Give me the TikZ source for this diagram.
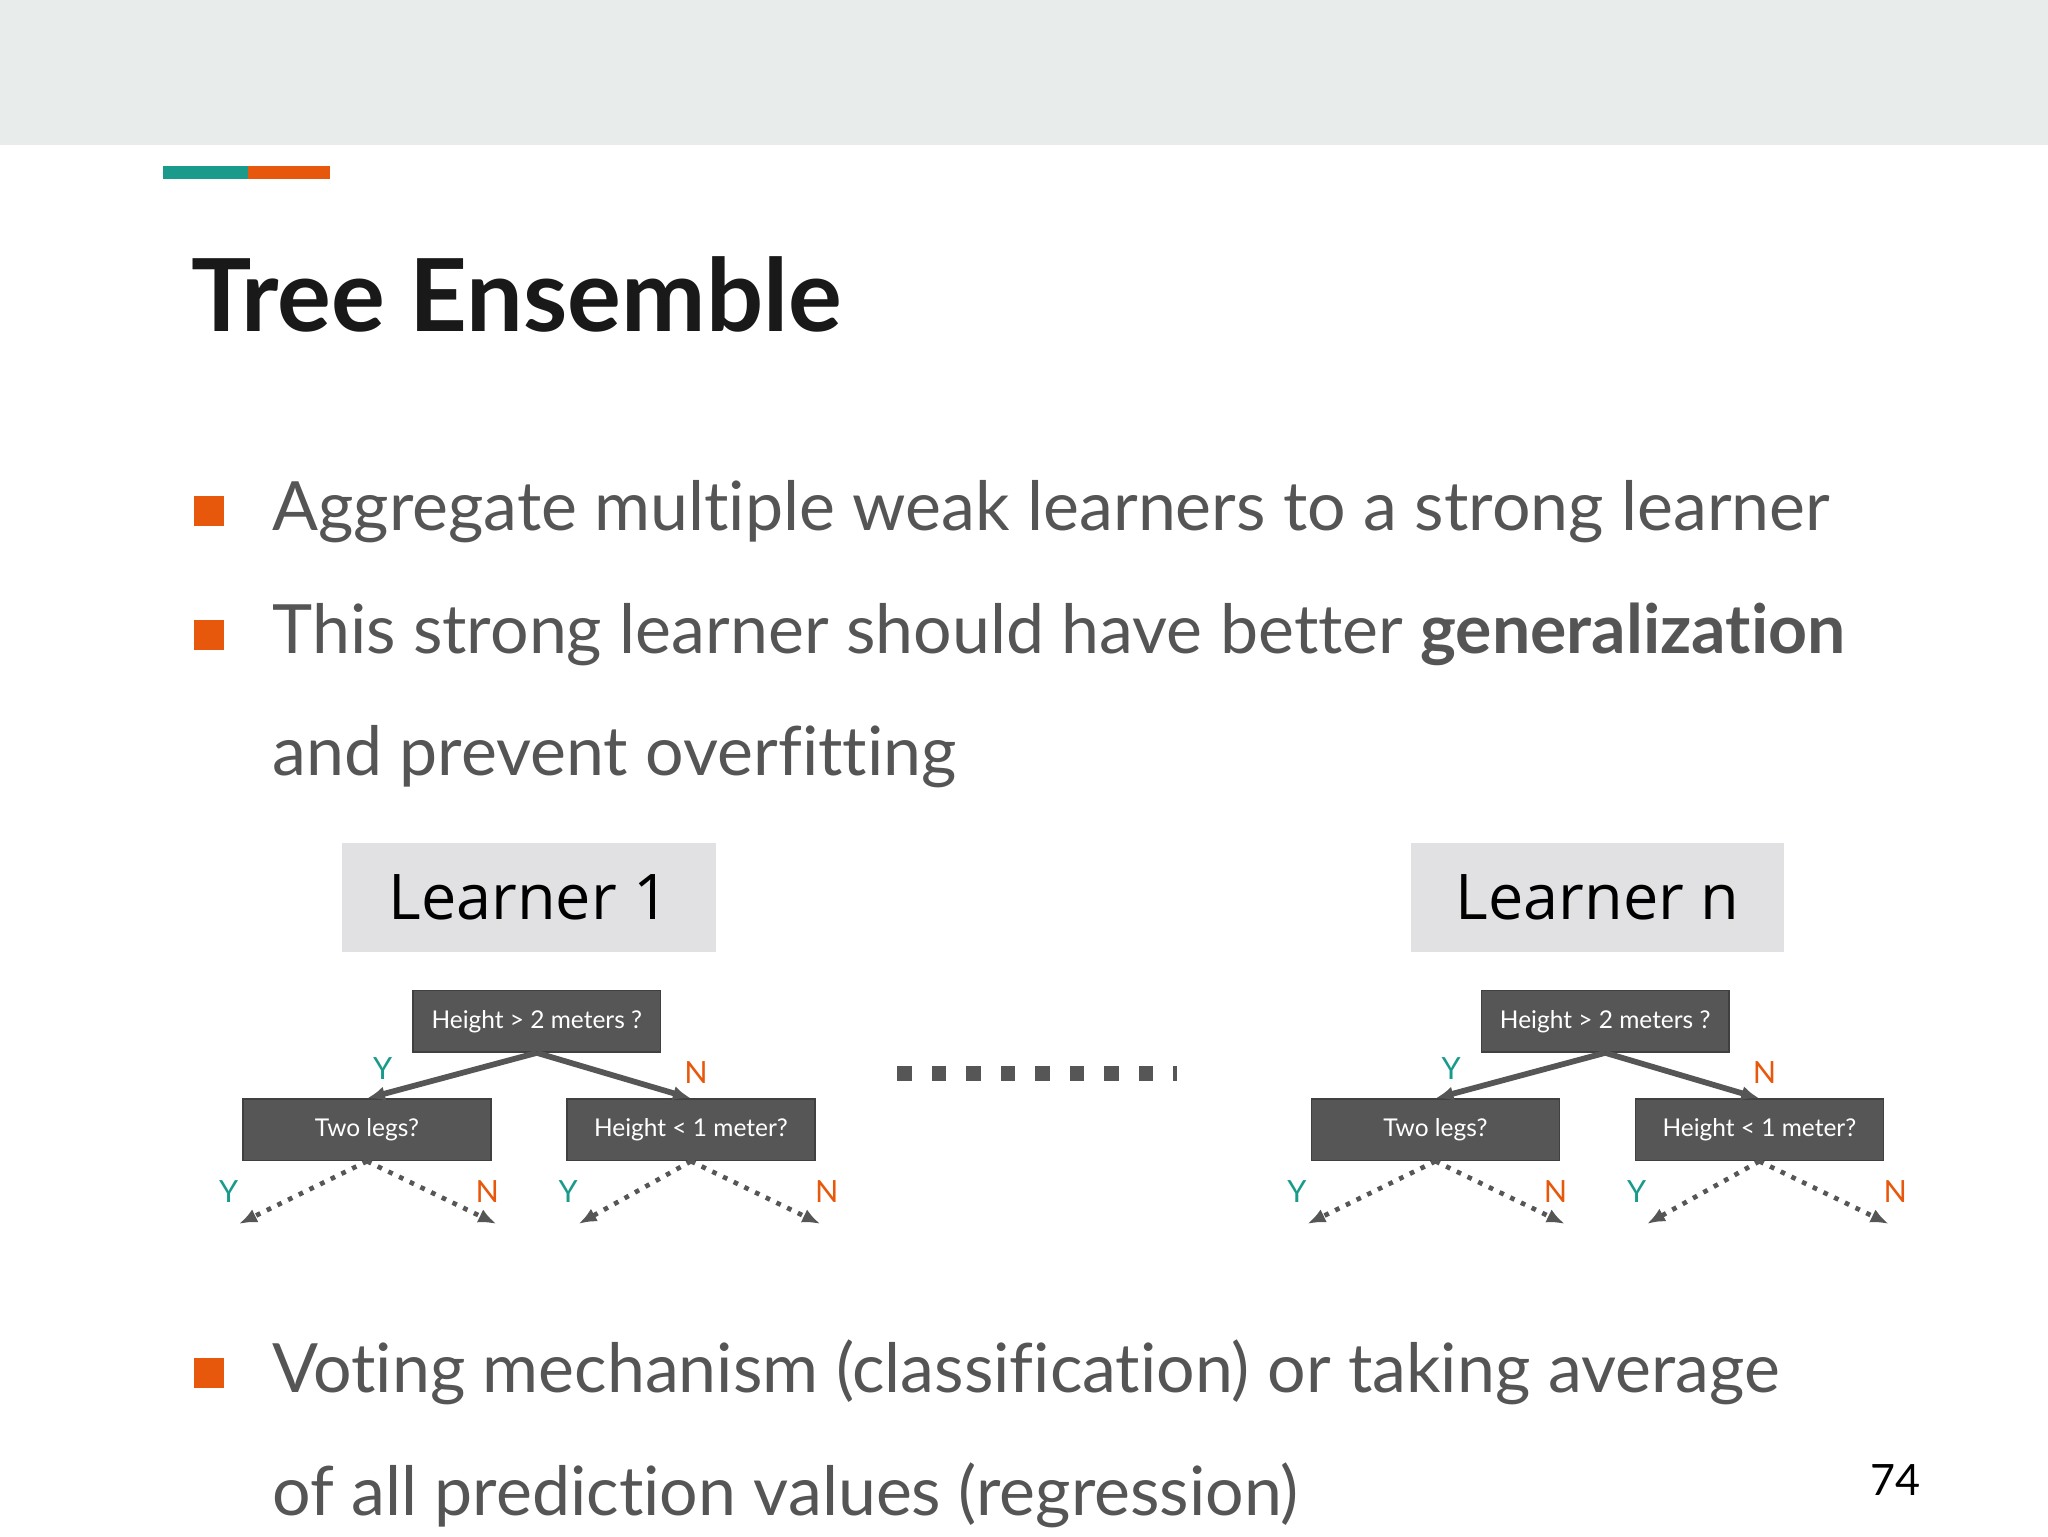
\documentclass[tikz,border=0pt]{standalone}
\usepackage{fontspec}
\setmainfont[Ligatures=NoCommon]{Lato}
\newfontfamily\learnerfont{Open Sans}
\definecolor{band}{HTML}{E8ECEB}
\definecolor{teal}{HTML}{1A9A8A}
\definecolor{orng}{HTML}{E8580C}
\definecolor{txt}{HTML}{555555}
\definecolor{lbox}{HTML}{E1E1E4}
\definecolor{dbox}{HTML}{565656}
\tikzset{
 bul/.style={fill=orng,minimum size=0.29cm,inner sep=0pt},
 btxt/.style={anchor=base west,text=txt,font=\fontsize{18.9}{22}\selectfont,inner sep=0pt},
 lrn/.style={fill=lbox,minimum width=3.65cm,minimum height=1.07cm,font=\learnerfont\fontsize{17.5}{20}\selectfont,text=black},
 qbox/.style={fill=dbox,draw=black!75,minimum width=2.42cm,minimum height=0.6cm,text=white,font=\fontsize{6.8}{8}\selectfont,inner sep=1pt},
 edge/.style={draw=dbox,line width=1.6pt,-{Latex[length=5pt,width=4pt]}},
 dot/.style={draw=dbox,line width=1.3pt,dotted,-{Latex[length=5pt,width=4pt]}},
 yl/.style={text=teal,font=\fontsize{8.5}{9}\selectfont},
 nl/.style={text=orng,font=\fontsize{8.5}{9}\selectfont},
}
\usetikzlibrary{arrows.meta}
\begin{document}
\begin{tikzpicture}[x=0.012755cm,y=-0.012755cm]
\useasboundingbox (0,0) rectangle (1568,1176);
\fill[band] (0,0) rectangle (1568,111);
\fill[teal] (125,127) rectangle (190,137);
\fill[orng] (190,127) rectangle (253,137);
\node[anchor=base west,inner sep=0pt,font=\fontsize{28}{32}\selectfont\bfseries,text=black!90] (title) at (146,254) {Tree Ensemble};
\node[bul] (b1) at (160,391) {};
\node[btxt] (t1) at (208,406) {Aggregate multiple weak learners to a strong learner};
\node[bul] (b2) at (160,486) {};
\node[btxt] (t2) at (208,500) {This strong learner should have better \textbf{generalization}};
\node[btxt] (t3) at (208,594) {and prevent overfitting};
\node[bul] (b3) at (160,1051) {};
\node[btxt] (t4) at (208,1066) {Voting mechanism (classification) or taking average};
\node[btxt] (t5) at (208,1160) {of all prediction values (regression)};
\node[anchor=base,font=\fontsize{12}{14}\selectfont] (pg) at (1451,1145) {74};
\foreach \dx/\lab/\nm in {0/1/a,818/n/b}{
 \node[lrn] (L\nm) at (405+\dx,687) {Learner \lab};
 \node[qbox] (r\nm) at (411+\dx,782) {Height > 2 meters ?};
 \node[qbox] (c\nm) at (281+\dx,865) {Two legs?};
 \node[qbox] (d\nm) at (529+\dx,865) {Height < 1 meter?};
 \draw[edge] (r\nm.south) -- (c\nm.north);
 \draw[edge] (r\nm.south) -- (d\nm.north);
 \coordinate (e1\nm) at (183+\dx,937);
 \coordinate (e2\nm) at (380+\dx,937);
 \coordinate (e3\nm) at (443+\dx,937);
 \coordinate (e4\nm) at (628+\dx,937);
 \draw[dot] (c\nm.south) -- (e1\nm);
 \draw[dot] (c\nm.south) -- (e2\nm);
 \draw[dot] (d\nm.south) -- (e3\nm);
 \draw[dot] (d\nm.south) -- (e4\nm);
 \node[yl] (y0\nm) at (293+\dx,818) {Y};
 \node[nl] (n0\nm) at (533+\dx,821) {N};
 \node[yl] (y1\nm) at (175+\dx,912) {Y};
 \node[nl] (n1\nm) at (373+\dx,912) {N};
 \node[yl] (y2\nm) at (435+\dx,912) {Y};
 \node[nl] (n2\nm) at (633+\dx,912) {N};
}
\foreach \i in {0,...,7}{\fill[dbox] (687+\i*26.4,816) rectangle (698+\i*26.4,828);}
\fill[dbox] (898,816) rectangle (901,828);
\end{tikzpicture}
\end{document}
